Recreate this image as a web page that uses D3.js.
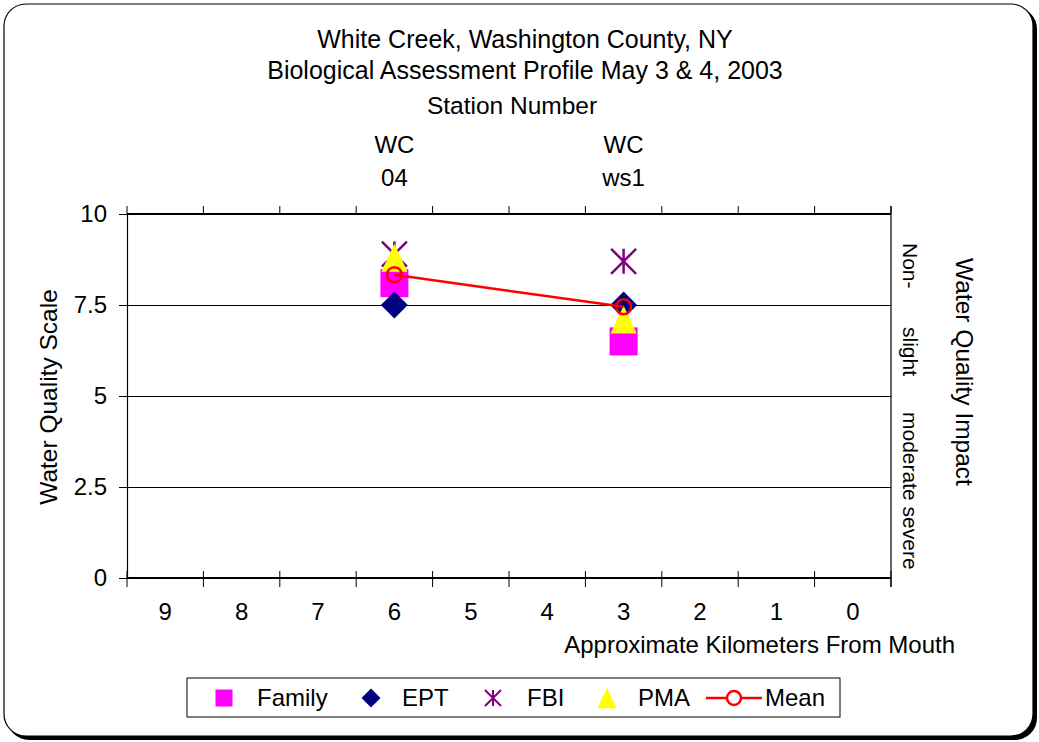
<!DOCTYPE html>
<html>
<head>
<meta charset="utf-8">
<script src="https://cdn.jsdelivr.net/npm/d3@7"></script>
<style>
  body { margin: 0; background: #fff; }
  text { font-family: "Liberation Sans", Arial, sans-serif; fill: #000; }
</style>
</head>
<body>
<div class="canvas"></div>
<script>
// data
const kmCategories = ['9', '8', '7', '6', '5', '4', '3', '2', '1', '0'];
const stationKm = ['6', '3'];
const stationNames = [['WC', '04'], ['WC', 'ws1']];
const family = [8.1, 6.5];
const ept = [7.5, 7.5];
const fbi = [8.9, 8.7];
const pma = [8.8, 7.1];
const mean = [8.33, 7.45];
const yTicks = [0, 2.5, 5, 7.5, 10];
const impactLabels = ['Non-', 'slight', 'moderate severe'];

const dims = { width: 1039, height: 742 };
const plot = { left: 127, right: 891, top: 214, bottom: 578 };
const FONT = '"Liberation Sans", Arial, sans-serif';

const svg = d3.select('.canvas')
    .append('svg')
    .attr('width', dims.width)
    .attr('height', dims.height);

// frame with shadow
svg.append('rect')
    .attr('x', 7).attr('y', 7)
    .attr('width', dims.width - 9).attr('height', dims.height - 9)
    .attr('rx', 22)
    .attr('fill', '#000');
svg.append('rect')
    .attr('x', 4).attr('y', 4)
    .attr('width', dims.width - 10).attr('height', dims.height - 10)
    .attr('rx', 22)
    .attr('fill', '#fff')
    .attr('stroke', '#000')
    .attr('stroke-width', 1.2);

const x = d3.scaleBand()
    .domain(kmCategories)
    .range([plot.left, plot.right])
    .paddingInner(0)
    .paddingOuter(0);
const xc = d => x(d) + x.bandwidth() / 2;

const y = d3.scaleLinear()
    .domain([0, 10])
    .range([plot.bottom, plot.top]);

// gridlines
svg.append('g')
    .attr('shape-rendering', 'crispEdges')
    .selectAll('line')
    .data(yTicks)
    .enter().append('line')
        .attr('x1', plot.left).attr('x2', plot.right)
        .attr('y1', d => y(d)).attr('y2', d => y(d))
        .attr('stroke', '#000')
        .attr('stroke-width', d => (d === 0 || d === 10) ? 2 : 1);

// left axis
const yAxis = d3.axisLeft(y)
    .tickValues(yTicks)
    .tickSize(8)
    .tickPadding(12)
    .tickFormat(d => d3.format('~g')(d));
const yAxisG = svg.append('g')
    .attr('transform', `translate(${plot.left},0)`)
    .call(yAxis);
yAxisG.select('.domain').attr('stroke-width', 1.2);
yAxisG.selectAll('text').attr('font-size', 24).style('font-family', FONT);

// right axis line
svg.append('line')
    .attr('x1', plot.right).attr('x2', plot.right)
    .attr('y1', plot.top - 8).attr('y2', plot.bottom + 9)
    .attr('stroke', '#000').attr('stroke-width', 1.2);

// category boundary ticks (top and bottom)
const bounds = kmCategories.map(d => x(d)).concat([plot.right]);
svg.append('g').selectAll('line')
    .data(bounds)
    .enter().append('line')
        .attr('x1', d => d).attr('x2', d => d)
        .attr('y1', plot.top - 8).attr('y2', plot.top)
        .attr('stroke', '#000');
svg.append('g').selectAll('line')
    .data(bounds)
    .enter().append('line')
        .attr('x1', d => d).attr('x2', d => d)
        .attr('y1', plot.bottom - 7).attr('y2', plot.bottom + 9)
        .attr('stroke', '#000');

// bottom labels
const xAxisG = svg.append('g')
    .attr('transform', `translate(0,${plot.bottom})`)
    .call(d3.axisBottom(x).tickSize(0).tickPadding(25));
xAxisG.select('.domain').remove();
xAxisG.selectAll('text').attr('font-size', 24).style('font-family', FONT);

// station labels (top)
const st = svg.append('g').selectAll('text')
    .data(stationKm)
    .enter().append('text')
        .attr('text-anchor', 'middle')
        .attr('font-size', 24);
st.each(function(d, i) {
    const t = d3.select(this);
    stationNames[i].forEach((line, j) => {
        t.append('tspan')
            .attr('x', xc(d))
            .attr('y', 153 + j * 33)
            .text(line);
    });
});

// titles
const titles = [
    { text: 'White Creek, Washington County, NY', x: 525, y: 48, size: 25 },
    { text: 'Biological Assessment Profile May 3 & 4, 2003', x: 525, y: 79, size: 25 },
    { text: 'Station Number', x: 512, y: 114, size: 24.5 }
];
svg.append('g').selectAll('text')
    .data(titles)
    .enter().append('text')
        .attr('x', d => d.x).attr('y', d => d.y)
        .attr('text-anchor', 'middle')
        .attr('font-size', d => d.size)
        .text(d => d.text);

svg.append('text')
    .attr('transform', `translate(57,397) rotate(-90)`)
    .attr('text-anchor', 'middle')
    .attr('font-size', 24.5)
    .text('Water Quality Scale');

svg.append('text')
    .attr('x', 955).attr('y', 653)
    .attr('text-anchor', 'end')
    .attr('font-size', 24)
    .text('Approximate Kilometers From Mouth');

svg.append('text')
    .attr('transform', `translate(956,372) rotate(90)`)
    .attr('text-anchor', 'middle')
    .attr('font-size', 24.5)
    .text('Water Quality Impact');

// impact labels (rotated)
const impactPos = [243, 327, 412];
svg.append('g').selectAll('text')
    .data(impactLabels)
    .enter().append('text')
        .attr('transform', (d, i) => `translate(903,${impactPos[i]}) rotate(90)`)
        .attr('font-size', 21)
        .text(d => d);

// custom marker shapes, sized by half-width r = sqrt(size)/2
const asterisk = {
    draw(ctx, size) {
        const r = Math.sqrt(size) / 2;
        ctx.moveTo(-r, -r); ctx.lineTo(r, r);
        ctx.moveTo(-r, r); ctx.lineTo(r, -r);
        ctx.moveTo(0, -r); ctx.lineTo(0, r);
    }
};
const diamond = {
    draw(ctx, size) {
        const r = Math.sqrt(size) / 2;
        ctx.moveTo(0, -r); ctx.lineTo(r, 0); ctx.lineTo(0, r); ctx.lineTo(-r, 0);
        ctx.closePath();
    }
};
const triangle = {
    draw(ctx, size) {
        const r = Math.sqrt(size) / 2;
        const h = r * 1.08;
        ctx.moveTo(0, -h); ctx.lineTo(r, h); ctx.lineTo(-r, h);
        ctx.closePath();
    }
};

const series = [
    { name: 'Family', values: family, type: d3.symbolSquare, size: 28 * 28, lsize: 17 * 17, fill: '#ff00ff', stroke: 'none' },
    { name: 'EPT', values: ept, type: diamond, size: 27 * 27, lsize: 19 * 19, fill: '#000080', stroke: 'none' },
    { name: 'FBI', values: fbi, type: asterisk, size: 25 * 25, lsize: 16 * 16, fill: 'none', stroke: '#800080' },
    { name: 'PMA', values: pma, type: triangle, size: 26 * 26, lsize: 19 * 19, fill: '#ffff00', stroke: 'none' }
];

const graph = svg.append('g');

series.forEach(s => {
    const sym = d3.symbol().type(s.type).size(s.size);
    graph.append('g').selectAll('path')
        .data(s.values)
        .enter().append('path')
            .attr('transform', (d, i) => `translate(${xc(stationKm[i])},${y(d)})`)
            .attr('d', sym)
            .attr('fill', s.fill)
            .attr('stroke', s.stroke)
            .attr('stroke-width', 2.5);
});

// mean line
const line = d3.line()
    .x((d, i) => xc(stationKm[i]))
    .y(d => y(d));
graph.append('path')
    .datum(mean)
    .attr('d', line)
    .attr('fill', 'none')
    .attr('stroke', '#ff0000')
    .attr('stroke-width', 2.5);
graph.append('g').selectAll('circle')
    .data(mean)
    .enter().append('circle')
        .attr('cx', (d, i) => xc(stationKm[i]))
        .attr('cy', d => y(d))
        .attr('r', 7.5)
        .attr('fill', 'none')
        .attr('stroke', '#ff0000')
        .attr('stroke-width', 2.5);

// legend
const legend = svg.append('g');
legend.append('rect')
    .attr('x', 187).attr('y', 678)
    .attr('width', 653).attr('height', 39)
    .attr('fill', '#fff')
    .attr('stroke', '#000')
    .attr('stroke-width', 1);

const legendPos = [
    { sx: 224, tx: 257 },
    { sx: 371, tx: 402 },
    { sx: 493, tx: 527 },
    { sx: 607, tx: 638 }
];
series.forEach((s, i) => {
    const sym = d3.symbol().type(s.type).size(s.lsize);
    legend.append('path')
        .attr('transform', `translate(${legendPos[i].sx},698)`)
        .attr('d', sym)
        .attr('fill', s.fill)
        .attr('stroke', s.stroke)
        .attr('stroke-width', 2);
    legend.append('text')
        .attr('x', legendPos[i].tx).attr('y', 706)
        .attr('font-size', 24)
        .text(s.name);
});
legend.append('line')
    .attr('x1', 706).attr('x2', 762)
    .attr('y1', 698).attr('y2', 698)
    .attr('stroke', '#ff0000').attr('stroke-width', 2.5);
legend.append('circle')
    .attr('cx', 734).attr('cy', 698).attr('r', 7)
    .attr('fill', '#fff')
    .attr('stroke', '#ff0000').attr('stroke-width', 2.5);
legend.append('text')
    .attr('x', 765).attr('y', 706)
    .attr('font-size', 24)
    .text('Mean');
</script>
</body>
</html>
